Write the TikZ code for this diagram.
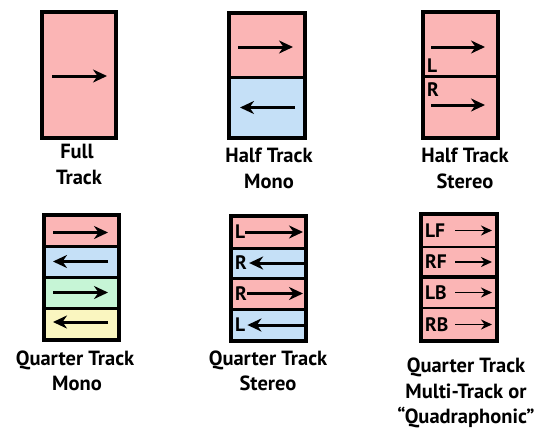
\documentclass[tikz,border=0pt]{standalone}
\usepackage{fontspec}
\setmainfont{PT Sans}
\usetikzlibrary{arrows.meta,fit}

\definecolor{trackpink}{RGB}{251,181,181}
\definecolor{trackblue}{RGB}{197,224,247}
\definecolor{trackgreen}{RGB}{198,245,214}
\definecolor{trackyellow}{RGB}{250,246,192}

\tikzset{
  strip/.style={draw=black, line width=3pt, inner sep=0pt, outer sep=0pt},
  thinstrip/.style={strip, line width=1.8pt},
  frame/.style={draw=black, line width=4pt},
  bigarrow/.style={line width=3pt, -{Stealth[length=14pt,width=13pt,inset=4.5pt]}},
  smallarrow/.style={line width=1.7pt, -{Stealth[length=11pt,width=10pt,inset=3.5pt]}},
  caption/.style={font=\bfseries\fontsize{20.5}{24}\selectfont, anchor=base, inner sep=0pt},
  tag/.style={font=\bfseries\fontsize{19.5}{22}\selectfont, inner sep=0pt},
}

\begin{document}
\begin{tikzpicture}[x=1pt,y=-1pt]
\useasboundingbox (0,0) rectangle (545,429);

% ---------- Full track ----------
\node[strip, fill=trackpink, fit={(42,12) (116,138)}] (full) {};
\draw[frame] (full.north west) rectangle (full.south east);
\draw[bigarrow] ([xshift=10pt,yshift=-1pt]full.west) -- ([xshift=-9pt,yshift=-1pt]full.east);
\node[caption] (full-c1) at (77,158) {Full};
\node[caption] (full-c2) at (79,184) {Track};

% ---------- Half track mono ----------
\node[strip, fill=trackpink, fit={(229,13) (305,77)}] (hm1) {};
\node[strip, fill=trackblue, fit={(229,77) (305,138)}] (hm2) {};
\draw[frame] (hm1.north west) rectangle (hm2.south east);
\draw[bigarrow] ([xshift=9pt,yshift=-2pt]hm1.west) -- ([xshift=-12pt,yshift=-2pt]hm1.east);
\draw[bigarrow] ([xshift=-10pt]hm2.east) -- ([xshift=11pt]hm2.west);
\node[caption] (hm-c1) at (269,162) {Half Track};
\node[caption] (hm-c2) at (269,188) {Mono};

% ---------- Half track stereo ----------
\node[strip, fill=trackpink, fit={(423,12) (498,76)}] (hs1) {};
\node[strip, fill=trackpink, fit={(423,76) (498,138)}] (hs2) {};
\draw[frame] (hs1.north west) rectangle (hs2.south east);
\draw[bigarrow] ([xshift=8pt,yshift=-3pt]hs1.west) -- ([xshift=-13pt,yshift=-3pt]hs1.east);
\draw[bigarrow] ([xshift=8pt,yshift=2pt]hs2.west) -- ([xshift=-13pt,yshift=2pt]hs2.east);
\node[tag, anchor=base west] (hs-l) at ([xshift=4pt,yshift=4pt]hs1.south west) {L};
\node[tag, anchor=north west] (hs-r) at ([xshift=4pt,yshift=-6pt]hs2.north west) {R};
\node[caption] (hs-c1) at (465,162) {Half Track};
\node[caption] (hs-c2) at (465,188) {Stereo};

% ---------- Quarter track mono ----------
\node[strip, fill=trackpink,   fit={(44,215) (119,246)}] (qm1) {};
\node[strip, fill=trackblue,   fit={(44,246) (119,277)}] (qm2) {};
\node[strip, fill=trackgreen,  fit={(44,277) (119,308)}] (qm3) {};
\node[strip, fill=trackyellow, fit={(44,308) (119,340)}] (qm4) {};
\draw[frame] (qm1.north west) rectangle (qm4.south east);
\draw[bigarrow] ([xshift=9pt,yshift=-2pt]qm1.west) -- ([xshift=-11pt,yshift=-2pt]qm1.east);
\draw[bigarrow] ([xshift=-11pt]qm2.east) -- ([xshift=9pt]qm2.west);
\draw[bigarrow] ([xshift=9pt]qm3.west) -- ([xshift=-11pt]qm3.east);
\draw[bigarrow] ([xshift=-11pt,yshift=2pt]qm4.east) -- ([xshift=9pt,yshift=2pt]qm4.west);
\node[caption] (qm-c1) at (75,365) {Quarter Track};
\node[caption] (qm-c2) at (77,390) {Mono};

% ---------- Quarter track stereo ----------
\node[strip, fill=trackpink, fit={(231,216) (306,248)}] (qs1) {};
\node[strip, fill=trackblue, fit={(231,248) (306,278)}] (qs2) {};
\node[strip, fill=trackpink, fit={(231,278) (306,309)}] (qs3) {};
\node[strip, fill=trackblue, fit={(231,309) (306,341)}] (qs4) {};
\draw[frame] (qs1.north west) rectangle (qs4.south east);
\node[tag, anchor=west] (qs1-t) at ([xshift=4pt]qs1.west) {L};
\node[tag, anchor=west] (qs2-t) at ([xshift=4pt]qs2.west) {R};
\node[tag, anchor=west] (qs3-t) at ([xshift=4pt]qs3.west) {R};
\node[tag, anchor=west] (qs4-t) at ([xshift=4pt]qs4.west) {L};
\draw[bigarrow] (qs1-t.east) -- ([xshift=-3pt]qs1.east |- qs1-t.east);
\draw[bigarrow] (qs2.east |- qs2-t.east) -- ([xshift=2pt]qs2-t.east);
\draw[bigarrow] (qs3-t.east) -- ([xshift=-3pt]qs3.east |- qs3-t.east);
\draw[bigarrow] (qs4.east |- qs4-t.east) -- ([xshift=2pt]qs4-t.east);
\node[caption] (qs-c1) at (268,365) {Quarter Track};
\node[caption] (qs-c2) at (268,390) {Stereo};

% ---------- Quarter track multi-track ----------
\node[thinstrip, fill=trackpink, fit={(421,214) (497,247)}] (mt1) {};
\node[thinstrip, fill=trackpink, fit={(421,247) (497,277)}] (mt2) {};
\node[thinstrip, fill=trackpink, fit={(421,277) (497,308)}] (mt3) {};
\node[thinstrip, fill=trackpink, fit={(421,308) (497,341)}] (mt4) {};
\draw[line width=3.5pt] (mt2.south west) -- (mt2.south east);
\draw[frame] (mt1.north west) rectangle (mt4.south east);
\node[tag, anchor=west] (mt1-t) at ([xshift=4pt]mt1.west) {LF};
\node[tag, anchor=west] (mt2-t) at ([xshift=4pt]mt2.west) {RF};
\node[tag, anchor=west] (mt3-t) at ([xshift=4pt]mt3.west) {LB};
\node[tag, anchor=west] (mt4-t) at ([xshift=4pt]mt4.west) {RB};
\foreach \i in {1,...,4}{
  \draw[smallarrow] ([xshift=34pt]mt\i.west) -- ([xshift=-5pt]mt\i.east);
}
\node[caption] (mt-c1) at (466,372) {Quarter Track};
\node[caption] (mt-c2) at (466,398) {Multi-Track or};
\node[caption] (mt-c3) at (466,423) {“Quadraphonic”};
\end{tikzpicture}
\end{document}
